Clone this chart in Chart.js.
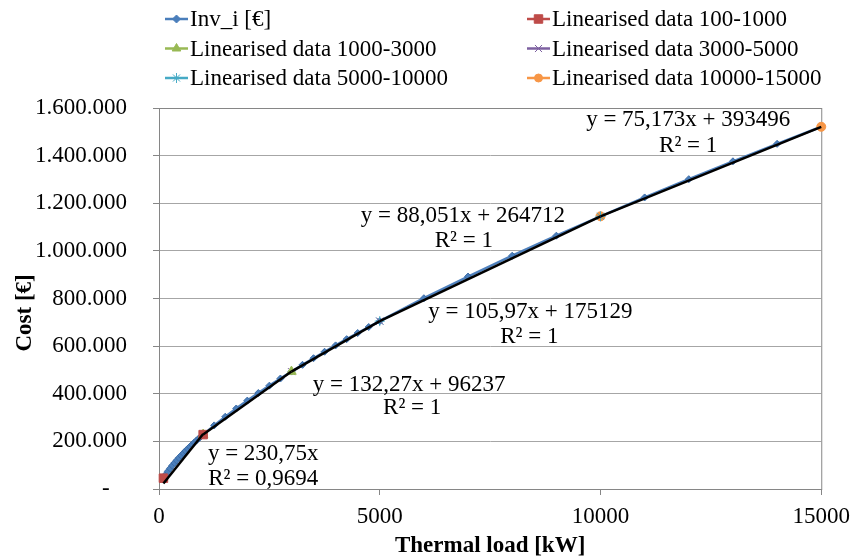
<!DOCTYPE html>
<html>
<head>
<meta charset="utf-8">
<script src="https://cdn.jsdelivr.net/npm/chart.js@4.4.1/dist/chart.umd.min.js"></script>
<style>
    body { margin: 0; background: #fff; }
</style>
</head>
<body>
<canvas id="cost-chart" width="858" height="560"></canvas>
<script>
// thermal load [kW] and investment cost [€]
var loadKW = [100, 150, 200, 250, 300, 350, 400, 450, 500, 550, 600, 650, 700, 750, 800, 850, 900, 950, 1000,
    1250, 1500, 1750, 2000, 2250, 2500, 2750, 3000,
    3250, 3500, 3750, 4000, 4250, 4500, 4750, 5000,
    6000, 7000, 8000, 9000, 10000, 11000, 12000, 13000, 14000, 15000];
var invCost = [45500, 60550, 74060, 86580, 98360, 109560, 120320, 130680, 140660, 150350, 159790, 169010, 178010, 186840, 195460, 203930, 212270, 220460, 228500,
    267130, 303470, 338100, 371170, 403110, 433970, 463910, 493050,
    521450, 549220, 576440, 603120, 629260, 655030, 680260, 704980,
    801140, 892250, 979560, 1063770, 1145220, 1224400, 1301170, 1376130, 1449460, 1521090];

// linearised data (segment end points)
var lin100x = [100, 1000],     lin100y = [45500, 228500];
var lin1000x = [1000, 3000],   lin1000y = [228500, 493050];
var lin3000x = [3000, 5000],   lin3000y = [493050, 704980];
var lin5000x = [5000, 10000],  lin5000y = [704980, 1145220];
var lin10000x = [10000, 15000], lin10000y = [1145220, 1521090];

// linear trendlines of each segment
var trend100y = [23075, 230750];
var trend1000y = [228510, 493050];
var trend3000y = [493040, 704980];
var trend5000y = [704970, 1145220];
var trend10000y = [1145230, 1521090];

var seriesNames = ["Inv_i [€]", "Linearised data 100-1000", "Linearised data 1000-3000",
    "Linearised data 3000-5000", "Linearised data 5000-10000", "Linearised data 10000-15000"];

var yTicks = [0, 200000, 400000, 600000, 800000, 1000000, 1200000, 1400000, 1600000];
var xTicks = [0, 5000, 10000, 15000];

// trendline equation labels
var eqLabels = [
    {text: "y = 230,75x", x: 2361, y: 147000},
    {text: "R² = 0,9694", x: 2361, y: 42000},
    {text: "y = 132,27x + 96237", x: 5667, y: 436700},
    {text: "R² = 1", x: 5735, y: 340000},
    {text: "y = 105,97x + 175129", x: 8411, y: 743300},
    {text: "R² = 1", x: 8388, y: 638300},
    {text: "y = 88,051x + 264712", x: 6882, y: 1146500},
    {text: "R² = 1", x: 6904, y: 1041500},
    {text: "y = 75,173x + 393496", x: 11987, y: 1549600},
    {text: "R² = 1", x: 11987, y: 1440400}
];

function pts(xs, ys) {
    var out = [];
    for (var i = 0; i < xs.length; i++) {
        out.push({x: xs[i], y: ys[i]});
    }
    return out;
}

function fmtThousands(v) {
    if (v === 0) return "-   ";
    return String(v).replace(/\B(?=(\d{3})+(?!\d))/g, ".");
}

var serif = "'Liberation Serif', 'Times New Roman', serif";
Chart.defaults.font.family = serif;
Chart.defaults.font.size = 23;
Chart.defaults.color = "#000";

function linSet(name, xs, ys, color, style, radius) {
    return {
        label: name, data: pts(xs, ys), showLine: false, clip: false,
        pointStyle: style, pointRadius: radius, pointBorderWidth: 1,
        backgroundColor: color, borderColor: color, order: 1
    };
}

function trendSet(xs, ys) {
    return {
        label: "trend", data: pts(xs, ys), showLine: true, pointRadius: 0, clip: false,
        borderColor: "#000", borderWidth: 2.5, order: 0
    };
}

var legendLook = [
    {color: "#4A7EBB", style: "rectRot", r: 4},
    {color: "#BE4B48", style: "rect", r: 6},
    {color: "#98B954", style: "triangle", r: 5},
    {color: "#7D60A0", style: "crossRot", r: 5},
    {color: "#46AAC5", style: "star", r: 5},
    {color: "#F79646", style: "circle", r: 4}
];

var legendPlugin = {
    id: "gridLegend",
    afterDraw: function(chart) {
        var ctx = chart.ctx;
        ctx.save();
        ctx.font = "23px " + serif;
        ctx.textBaseline = "middle";
        ctx.textAlign = "left";
        for (var i = 0; i < seriesNames.length; i++) {
            var lx = i % 2 === 0 ? 165 : 527;
            var ly = 19 + Math.floor(i / 2) * 29.5;
            var look = legendLook[i];
            ctx.strokeStyle = look.color;
            ctx.lineWidth = 2.5;
            ctx.beginPath();
            ctx.moveTo(lx, ly);
            ctx.lineTo(lx + 23, ly);
            ctx.stroke();
            ctx.fillStyle = look.color;
            ctx.lineWidth = 1;
            Chart.helpers.drawPoint(ctx, {pointStyle: look.style, radius: look.r, borderWidth: 1, rotation: 0}, lx + 11.5, ly);
            ctx.fillStyle = "#000";
            ctx.fillText(seriesNames[i], lx + 25, ly + 1);
        }
        ctx.restore();
    }
};

var framePlugin = {
    id: "plotFrame",
    beforeDatasetsDraw: function(chart) {
        var a = chart.chartArea, ctx = chart.ctx;
        ctx.save();
        ctx.strokeStyle = "#868686";
        ctx.lineWidth = 1;
        ctx.strokeRect(a.left + 0.5, a.top + 0.5, a.right - a.left, a.bottom - a.top);
        ctx.restore();
    },
    afterDatasetsDraw: function(chart) {
        var ctx = chart.ctx, sx = chart.scales.x, sy = chart.scales.y;
        ctx.save();
        ctx.font = "23px " + serif;
        ctx.fillStyle = "#000";
        ctx.textAlign = "center";
        ctx.textBaseline = "middle";
        eqLabels.forEach(function(l) {
            ctx.fillText(l.text, sx.getPixelForValue(l.x), sy.getPixelForValue(l.y));
        });
        ctx.restore();
    }
};

new Chart(document.getElementById("cost-chart"), {
    type: "scatter",
    data: {
        datasets: [
            trendSet(lin100x, trend100y),
            trendSet(lin1000x, trend1000y),
            trendSet(lin3000x, trend3000y),
            trendSet(lin5000x, trend5000y),
            trendSet(lin10000x, trend10000y),
            linSet(seriesNames[1], lin100x, lin100y, "#BE4B48", "rect", 6),
            linSet(seriesNames[2], lin1000x, lin1000y, "#98B954", "triangle", 5.5),
            linSet(seriesNames[3], lin3000x, lin3000y, "#7D60A0", "crossRot", 5),
            linSet(seriesNames[4], lin5000x, lin5000y, "#46AAC5", "star", 5),
            linSet(seriesNames[5], lin10000x, lin10000y, "#F79646", "circle", 4.5),
            {
                label: seriesNames[0], data: pts(loadKW, invCost), showLine: true, clip: false,
                borderColor: "#4F81BD", borderWidth: 2.5,
                pointStyle: "rectRot", pointRadius: 3.5, pointBorderWidth: 1,
                backgroundColor: "#4A7EBB", pointBorderColor: "#3C6CA6", order: 2
            }
        ]
    },
    options: {
        responsive: false,
        animation: false,
        devicePixelRatio: 1,
        layout: {padding: {top: 108, right: 32, left: 0, bottom: 0}},
        plugins: {legend: {display: false}, tooltip: {enabled: false}},
        scales: {
            x: {
                type: "linear", min: 0, max: 15000,
                afterBuildTicks: function(s) { s.ticks = xTicks.map(function(v) { return {value: v}; }); },
                afterFit: function(s) { s.height = 71; },
                ticks: {padding: 8, maxRotation: 0, callback: function(v) { return String(v); }},
                grid: {drawOnChartArea: false, tickLength: 6, tickColor: "#868686"},
                border: {color: "#868686"},
                title: {display: true, text: "Thermal load [kW]", font: {weight: "bold", size: 23}, padding: {top: 0, bottom: 0}}
            },
            y: {
                min: 0, max: 1600000,
                afterBuildTicks: function(s) { s.ticks = yTicks.map(function(v) { return {value: v}; }); },
                afterFit: function(s) { s.width = 159; },
                ticks: {padding: 26, callback: function(v) { return fmtThousands(v); }},
                grid: {color: "#A6A6A6", tickLength: 6, tickColor: "#868686"},
                border: {color: "#868686"},
                title: {display: true, text: "Cost [€]     ", font: {weight: "bold", size: 23}, padding: {top: 11, bottom: 0}}
            }
        }
    },
    plugins: [legendPlugin, framePlugin]
});
</script>
</body>
</html>
